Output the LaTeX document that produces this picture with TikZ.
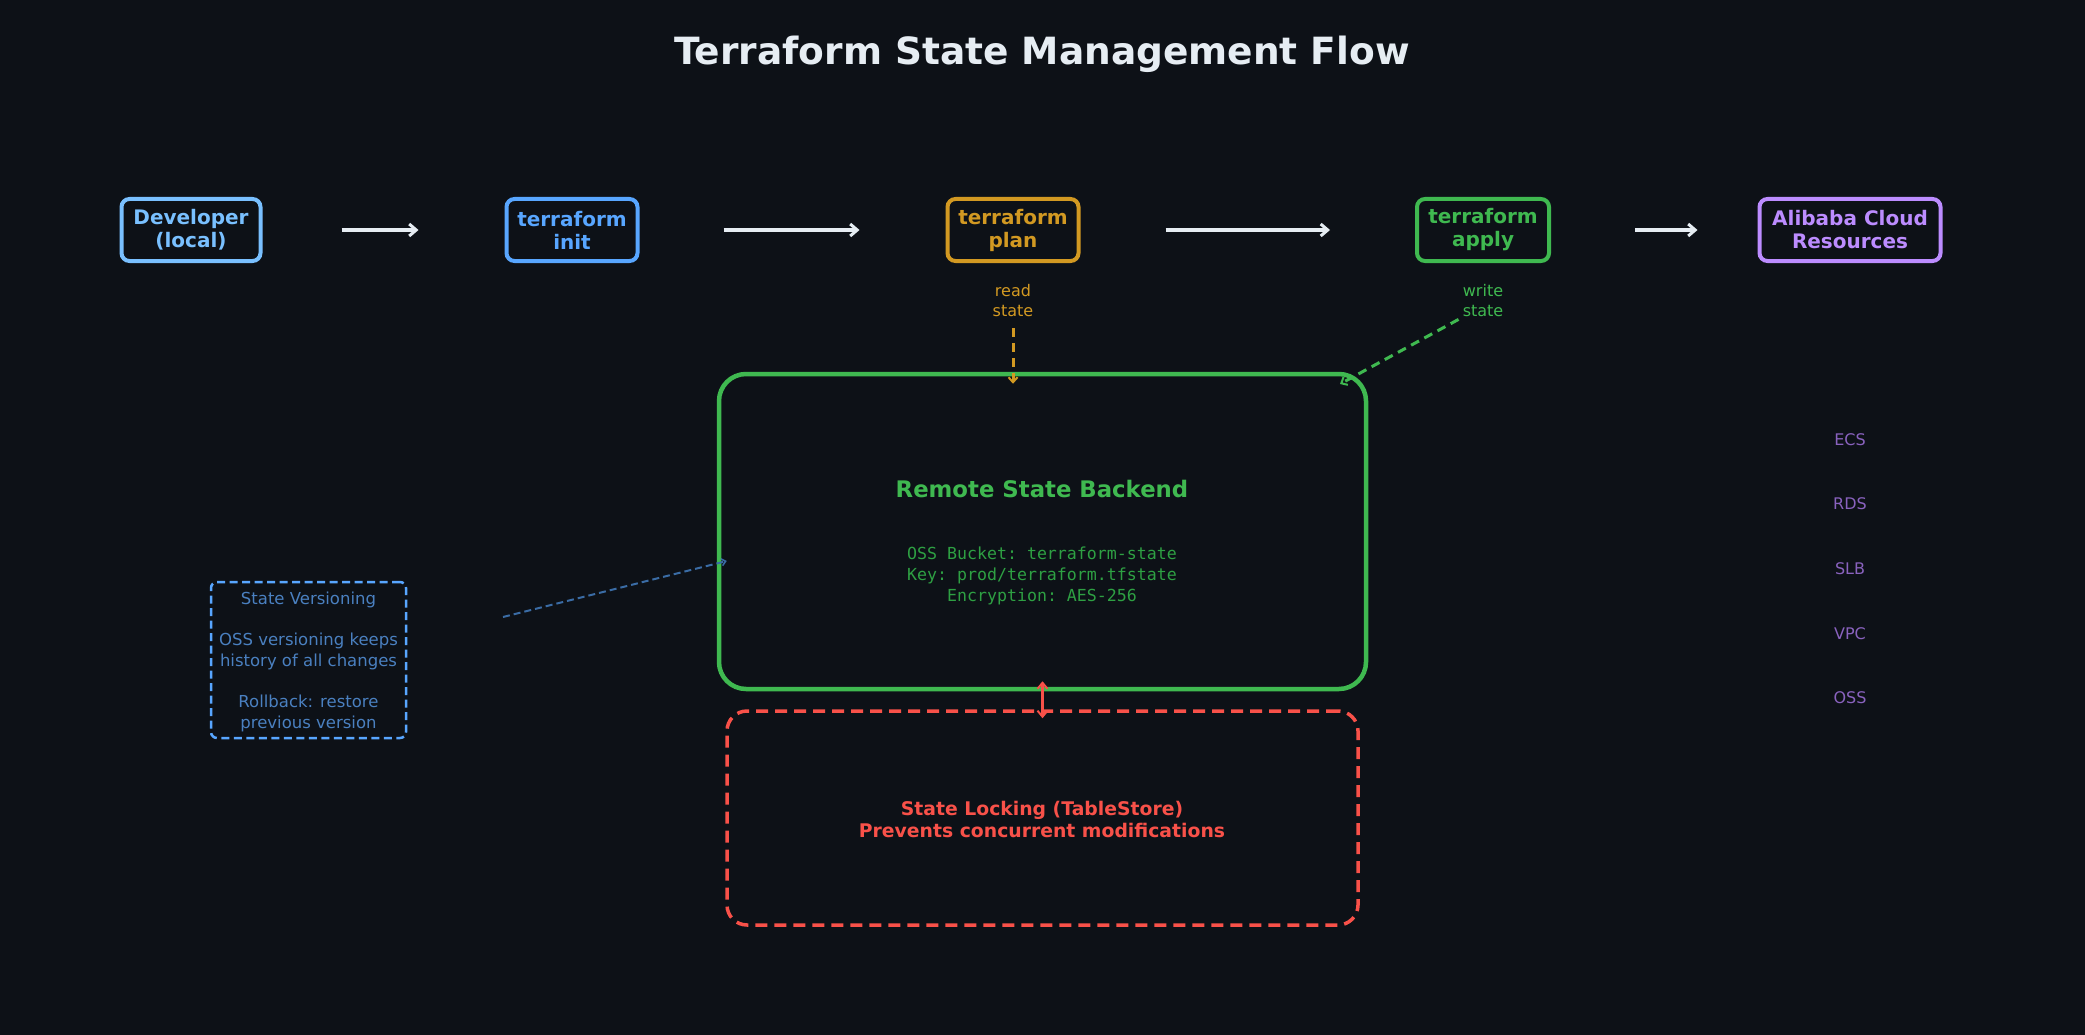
\documentclass[tikz,border=0pt]{standalone}
\usepackage{fontspec}
\setmainfont{DejaVu Sans}
\setmonofont{DejaVu Sans Mono}
\usetikzlibrary{arrows.meta}
\definecolor{bg}{HTML}{0D1117}
\definecolor{cdev}{HTML}{79C0FF}
\definecolor{cinit}{HTML}{58A6FF}
\definecolor{cplan}{HTML}{D29922}
\definecolor{capply}{HTML}{3FB950}
\definecolor{cali}{HTML}{BC8CFF}
\definecolor{cwhite}{HTML}{E6EDF3}
\definecolor{cred}{HTML}{F85149}
\definecolor{cmono}{HTML}{2EA043}
\definecolor{cver}{RGB}{74,128,192}
\definecolor{cverarrow}{RGB}{58,108,165}
\definecolor{cres}{RGB}{137,98,190}
\begin{document}
\begin{tikzpicture}[x=1pt,y=-1pt,
  stepbox/.style={draw=#1,text=#1,line width=4pt,rounded corners=8pt,align=center,
    font=\fontsize{20}{23}\selectfont\bfseries,inner xsep=8pt,inner ysep=5pt,minimum height=62pt},
  flow/.style={cwhite,line width=4pt,-{Straight Barb[length=7pt,width=12pt,line width=3pt]}},
  small/.style={font=\fontsize{16}{20}\selectfont,align=center,inner sep=0pt},
]
\fill[bg] (0,0) rectangle (2085,1035);
\useasboundingbox (0,0) rectangle (2085,1035);

\node[font=\fontsize{37.5}{42}\selectfont\bfseries,text=cwhite] (title) at (1042,54) {Terraform State Management Flow};

\node[stepbox=cdev,minimum width=139pt] (dev) at (191,230) {Developer\\(local)};
\node[stepbox=cinit,minimum width=131pt] (init) at (572,230) {terraform\\init};
\node[stepbox=cplan,minimum width=131pt] (plan) at (1013,230) {terraform\\plan};
\node[stepbox=capply,minimum width=132pt] (apply) at (1483,230) {terraform\\apply};
\node[stepbox=cali,minimum width=181pt] (ali) at (1850,230) {Alibaba Cloud\\Resources};

\draw[flow] ([xshift=79pt]dev.east) -- ([xshift=-86pt]init.west);
\draw[flow] ([xshift=84pt]init.east) -- ([xshift=-86pt]plan.west);
\draw[flow] ([xshift=85pt]plan.east) -- ([xshift=-85pt]apply.west);
\draw[flow] ([xshift=84pt]apply.east) -- ([xshift=-60pt]ali.west);

\node[small,text=cplan] (readl) at (1013,301) {read\\state};
\node[small,text=capply] (writel) at (1483,301) {write\\state};

% remote backend
\node[draw=capply,line width=4.5pt,rounded corners=27pt,minimum width=647pt,minimum height=315pt] (remote) at (1042.5,531.5) {};
\node[font=\fontsize{22.8}{26}\selectfont\bfseries,text=capply] (rtitle) at (1042,489) {Remote State Backend};
\node[font=\fontsize{16.6}{21}\selectfont\ttfamily,text=cmono,align=center] (rinfo) at (1042,576) {OSS Bucket: terraform-state\\Key: prod/terraform.tfstate\\Encryption: AES-256};

% locking
\node[draw=cred,line width=3.5pt,dash pattern=on 12pt off 7pt,rounded corners=20pt,minimum width=631pt,minimum height=214pt] (lock) at (1042.5,818) {};
\node[font=\fontsize{18.8}{22}\selectfont\bfseries,text=cred,align=center] (locktext) at (1042,819) {State Locking (TableStore)\\Prevents concurrent modifications};

% versioning
\node[draw=cinit,line width=2.5pt,dash pattern=on 8pt off 4.5pt,rounded corners=6pt,minimum width=195pt,minimum height=156pt] (ver) at (308.5,660) {};
\node[font=\fontsize{16.5}{20.6}\selectfont,text=cver,align=center] (vertext) at (308.5,662) {State Versioning\\[20.6pt]OSS versioning keeps\\history of all changes\\[20.6pt]Rollback: restore\\previous version};

% resources
\foreach \n/\t/\y in {r1/ECS/440,r2/RDS/504,r3/SLB/569,r4/VPC/634,r5/OSS/698}
  \node[small,text=cres] (\n) at (1850,\y) {\t};

% connectors
\coordinate (readend) at (remote.north -| readl.south);
\draw[cplan,line width=3pt,dash pattern=on 9pt off 6pt,-{Straight Barb[length=5pt,width=9pt,line width=2pt]}]
  ([yshift=-11pt]readl.south) -- ([yshift=-12pt]readend);
\coordinate (writeend) at (1340,384);
\draw[capply,line width=3pt,dash pattern=on 9pt off 6pt,-{Straight Barb[length=5pt,width=9pt,line width=2pt]}]
  ([xshift=-4pt,yshift=-2pt]writel.south west) -- (writeend);
\coordinate (verstart) at (503,617);
\draw[cverarrow,line width=2pt,dash pattern=on 7pt off 4pt,-{Straight Barb[length=4pt,width=7pt,line width=1.5pt]}]
  (verstart) -- ([xshift=10pt,yshift=-29.5pt]remote.west);
\draw[cred,line width=3pt,{Straight Barb[length=6pt,width=10pt,line width=2pt]}-{Straight Barb[length=6pt,width=10pt,line width=2pt]}]
  ([yshift=10pt]remote.south) -- ([yshift=-9pt]lock.north);
\end{tikzpicture}
\end{document}
